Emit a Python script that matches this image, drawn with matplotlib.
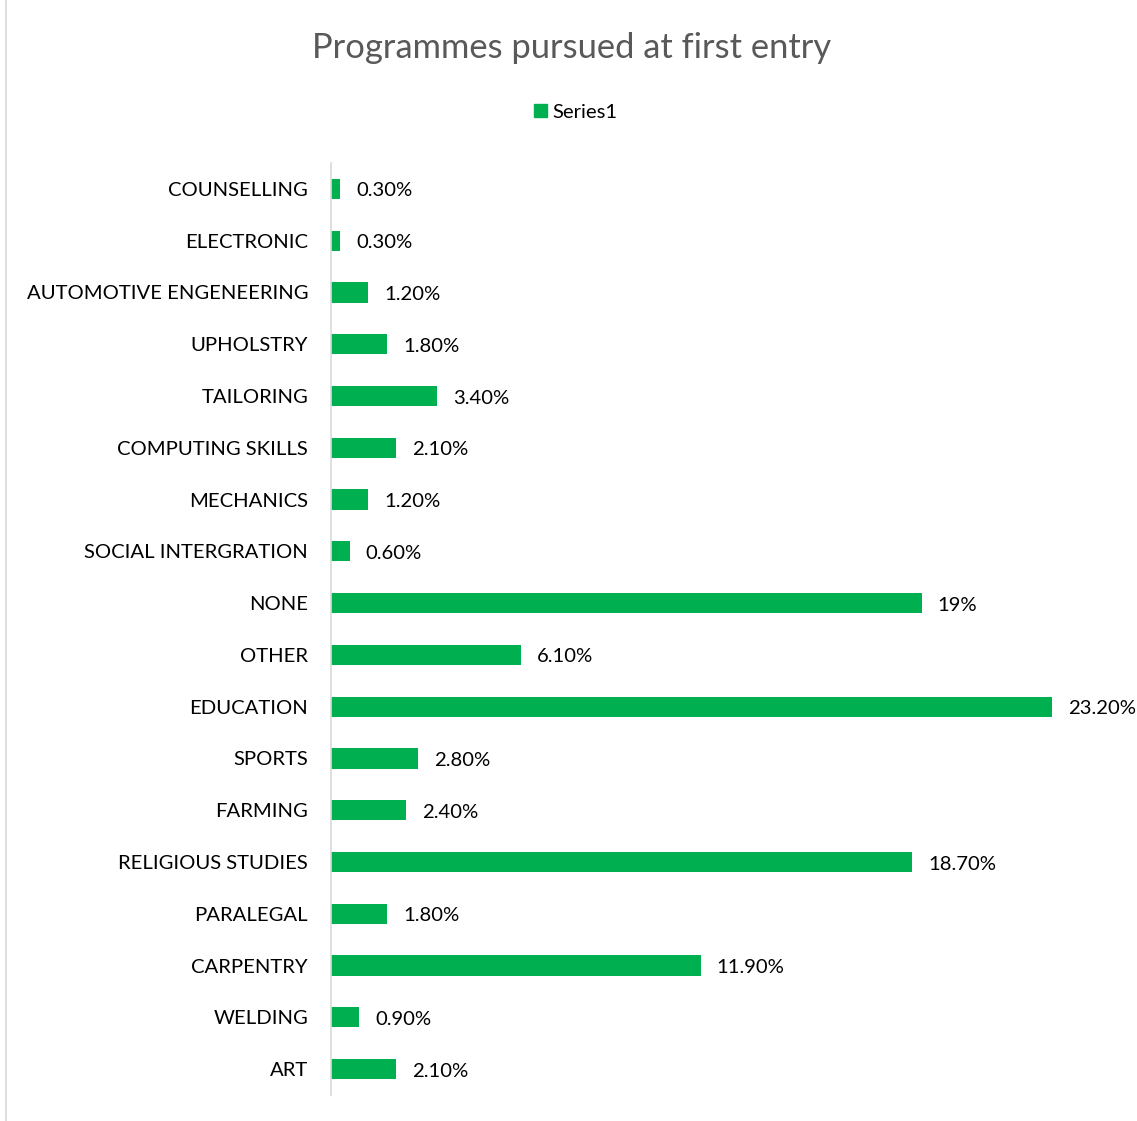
import matplotlib
matplotlib.use("Agg")
import matplotlib.pyplot as plt
from matplotlib.lines import Line2D
from matplotlib.patches import Patch

categories = ["COUNSELLING", "ELECTRONIC", "AUTOMOTIVE ENGENEERING", "UPHOLSTRY",
              "TAILORING", "COMPUTING SKILLS", "MECHANICS", "SOCIAL INTERGRATION",
              "NONE", "OTHER", "EDUCATION", "SPORTS", "FARMING", "RELIGIOUS STUDIES",
              "PARALEGAL", "CARPENTRY", "WELDING", "ART"]
values = [0.3, 0.3, 1.2, 1.8, 3.4, 2.1, 1.2, 0.6, 19.0, 6.1, 23.2, 2.8, 2.4, 18.7,
          1.8, 11.9, 0.9, 2.1]
value_labels = ["0.30%", "0.30%", "1.20%", "1.80%", "3.40%", "2.10%", "1.20%", "0.60%",
                "19%", "6.10%", "23.20%", "2.80%", "2.40%", "18.70%", "1.80%",
                "11.90%", "0.90%", "2.10%"]
series_name = "Series1"

plt.rcParams['font.family'] = ['Lato', 'DejaVu Sans']
W, H = 1137, 1121
fig = plt.figure(figsize=(W/100, H/100), dpi=100)
green = "#00B050"
fs = 14.6

ax = fig.add_axes([331/W, 26/H, (1108-331)/W, (1095-163)/H])
ypos = list(range(len(categories)))
ax.barh(ypos, values, height=0.39, color=green)
ax.set_ylim(17.5, -0.5)
ax.set_xlim(0, 25)
ax.set_yticks(ypos)
ax.set_yticklabels(categories, fontsize=fs, color="#000000")
ax.tick_params(axis='y', length=0, pad=16.5)
ax.set_xticks([])
for s in ["top", "right", "bottom"]:
    ax.spines[s].set_visible(False)
ax.spines["left"].set_color("#d9d9d9")
ax.spines["left"].set_linewidth(1.2)
for y, v, lab in zip(ypos, values, value_labels):
    ax.annotate(lab, (v, y), xytext=(16, -2), textcoords="offset pixels",
                va="center", ha="left", fontsize=fs, color="#000000")

fig.text(572/W, 1 - 48/H, "Programmes pursued at first entry", ha="center", va="center",
         fontsize=24.8, color="#595959")
leg = fig.legend(handles=[Patch(color=green, label=series_name)], loc="center",
                 bbox_to_anchor=(576/W, 1 - 112/H), frameon=False, fontsize=fs,
                 handlelength=0.65, handleheight=0.65, handletextpad=0.25)

fig.add_artist(Line2D([6/W, 6/W], [0, 1], color="#d9d9d9", lw=1.2))

fig.savefig("out.png", dpi=100)
